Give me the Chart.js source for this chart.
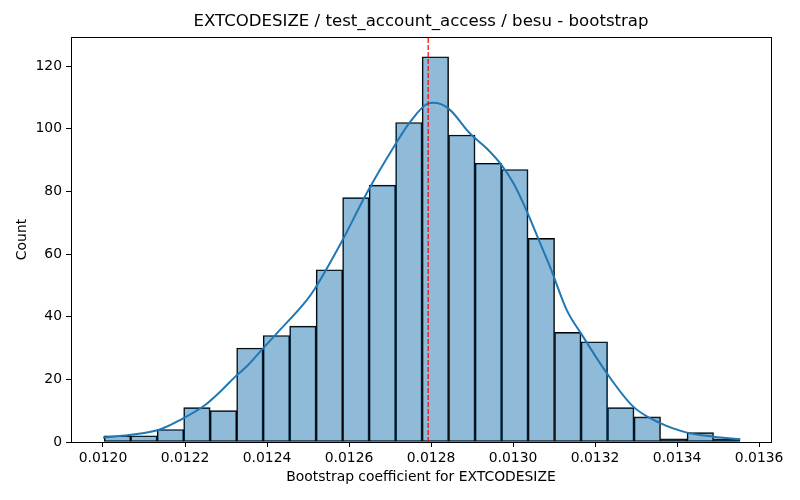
<!DOCTYPE html>
<html>
<head>
<meta charset="utf-8">
<script src="https://cdn.jsdelivr.net/npm/chart.js@4"></script>
<style>
  html, body { margin: 0; padding: 0; background: #fff; }
  #chart { display: block; }
</style>
</head>
<body>
<canvas id="chart" width="800" height="500"></canvas>
<script>
// histogram bins (seaborn style, 24 equal bins)
const binStart = 0.012003;
const binWidth = 0.0000646;
const counts = [2, 2, 4, 11, 10, 30, 34, 37, 55, 78, 82, 102, 123, 98, 89, 87, 65, 35, 32, 11, 8, 1, 3, 1];

// kde curve
const kdeX = [0.012000, 0.012064, 0.012139, 0.012188, 0.012249, 0.012290, 0.012322, 0.012354,
              0.012387, 0.012424, 0.012497, 0.012517, 0.012582, 0.012643, 0.012712, 0.012749,
              0.012793, 0.012806, 0.012842, 0.012895, 0.012936, 0.012972, 0.013001, 0.013025,
              0.013041, 0.013066, 0.013090, 0.013131, 0.013168, 0.013229, 0.013293, 0.013359,
              0.013424, 0.013489, 0.013554];
const kdeY = [1.4, 2.2, 4.0, 7.0, 11.8, 16.6, 20.8, 24.6,
              29.4, 34.7, 45.3, 49.0, 63.9, 79.4, 94.8, 102.2,
              108.1, 108.3, 106.5, 98.5, 93.7, 88.4, 82.6, 76.2,
              71.4, 63.5, 56.0, 42.1, 34.2, 21.9, 11.3, 6.0,
              3.0, 1.7, 0.9];

const meanValue = 0.012793;
const xTicks = [0.0120, 0.0122, 0.0124, 0.0126, 0.0128, 0.0130, 0.0132, 0.0134, 0.0136];
const yTicks = [0, 20, 40, 60, 80, 100, 120];

const xMin = 0.011922, xMax = 0.013629;
const yMax = 129.3;

const titleText = 'EXTCODESIZE / test_account_access / besu - bootstrap';

const barData = counts.map((c, i) => ({ x: binStart + (i + 0.5) * binWidth, y: c }));
const kdeData = kdeX.map((x, i) => ({ x: x, y: kdeY[i] }));

const font = "'DejaVu Sans', sans-serif";

// axes frame + title centred over the axes, like matplotlib
const frame = {
  id: 'frame',
  afterDatasetsDraw(chart) {
    const a = chart.chartArea, c = chart.ctx;
    c.save();
    c.strokeStyle = '#000';
    c.lineWidth = 1;
    c.strokeRect(Math.round(a.left) + 0.5, Math.round(a.top) + 0.5,
                 Math.round(a.right - a.left), Math.round(a.bottom - a.top));
    c.fillStyle = '#000';
    c.font = '16.6px ' + font;
    c.textAlign = 'center';
    c.textBaseline = 'middle';
    c.fillText(titleText, (a.left + a.right) / 2, 22);
    c.restore();
  }
};

const ctx = document.querySelector('#chart').getContext('2d');
const chart = new Chart(ctx, {
  data: {
    datasets: [{
      type: 'line',
      label: 'mean',
      data: [{ x: meanValue, y: 0 }, { x: meanValue, y: yMax }],
      borderColor: 'red',
      borderWidth: 1.2,
      borderDash: [5, 2],
      pointRadius: 0
    }, {
      type: 'line',
      label: 'kde',
      data: kdeData,
      borderColor: '#1f77b4',
      borderWidth: 2,
      pointRadius: 0,
      cubicInterpolationMode: 'monotone'
    }, {
      type: 'bar',
      label: 'Count',
      data: barData,
      backgroundColor: 'rgba(31,119,180,0.5)',
      borderColor: '#000',
      borderWidth: 1,
      borderSkipped: false,
      barPercentage: 1,
      categoryPercentage: 1
    }]
  },
  options: {
    responsive: false,
    animation: false,
    events: [],
    layout: { padding: { left: 0, right: 29, top: 37, bottom: 0 } },
    plugins: {
      legend: { display: false },
      tooltip: { enabled: false },
      title: { display: false }
    },
    scales: {
      x: {
        type: 'linear',
        min: xMin,
        max: xMax,
        offset: false,
        afterBuildTicks(scale) { scale.ticks = xTicks.map(v => ({ value: v })); },
        afterFit(scale) { scale.height = 58; },
        grid: { offset: false, drawOnChartArea: false, drawTicks: true, tickLength: 5, color: '#000' },
        border: { display: true, color: '#000' },
        ticks: {
          color: '#000',
          padding: 3,
          maxRotation: 0,
          autoSkip: false,
          font: { family: font, size: 13.9 },
          callback: v => v.toFixed(4)
        },
        title: {
          display: true,
          text: 'Bootstrap coefficient for EXTCODESIZE',
          color: '#000',
          font: { family: font, size: 13.9 },
          padding: { top: 0, bottom: 14 }
        }
      },
      y: {
        type: 'linear',
        min: 0,
        max: yMax,
        afterBuildTicks(scale) { scale.ticks = yTicks.map(v => ({ value: v })); },
        afterFit(scale) { scale.width = 71; },
        grid: { drawOnChartArea: false, drawTicks: true, tickLength: 5, color: '#000' },
        border: { display: true, color: '#000' },
        ticks: {
          color: '#000',
          padding: 4,
          font: { family: font, size: 13.9 }
        },
        title: {
          display: true,
          text: 'Count',
          color: '#000',
          font: { family: font, size: 13.9 },
          padding: { top: 14, bottom: 0 }
        }
      }
    }
  },
  plugins: [frame]
});
</script>
</body>
</html>
